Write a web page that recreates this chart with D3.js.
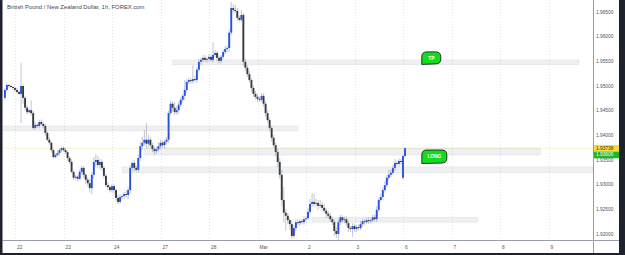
<!DOCTYPE html>
<html>
<head>
<meta charset="utf-8">
<script src="https://cdn.jsdelivr.net/npm/d3@7/dist/d3.min.js"></script>
<style>
  body { margin: 0; background: #fff; }
  svg { display: block; font-family: "Liberation Sans", Arial, sans-serif; }
</style>
</head>
<body>
<svg id="chart" width="625" height="255"></svg>
<script>
// hourly closes, first bar is 5 hours before Feb 22 00:00
var firstBar = -5;
var firstOpen = 1.9476;
var closes = [
  1.9492, 1.9502, 1.9500, 1.9498, 1.9496, 1.9492, 1.9488, 1.9484, 1.9500, 1.9476, 1.9456, 1.9447,
  1.9451, 1.9445, 1.9415, 1.9421, 1.9419, 1.9427, 1.9423, 1.9419, 1.9405, 1.9391, 1.9385, 1.9370,
  1.9356, 1.9360, 1.9364, 1.9370, 1.9374, 1.9370, 1.9366, 1.9354, 1.9346, 1.9326, 1.9314, 1.9316,
  1.9312, 1.9326, 1.9334, 1.9320, 1.9310, 1.9303, 1.9293, 1.9320, 1.9346, 1.9350, 1.9340, 1.9346,
  1.9334, 1.9318, 1.9299, 1.9295, 1.9289, 1.9297, 1.9289, 1.9273, 1.9265, 1.9275, 1.9277, 1.9281,
  1.9279, 1.9289, 1.9334, 1.9344, 1.9334, 1.9330, 1.9354, 1.9378, 1.9385, 1.9391, 1.9383, 1.9391,
  1.9380, 1.9372, 1.9368, 1.9372, 1.9378, 1.9385, 1.9380, 1.9387, 1.9391, 1.9445, 1.9464, 1.9456,
  1.9447, 1.9451, 1.9462, 1.9472, 1.9480, 1.9492, 1.9508, 1.9512, 1.9510, 1.9514, 1.9512, 1.9533,
  1.9549, 1.9553, 1.9557, 1.9553, 1.9555, 1.9559, 1.9553, 1.9563, 1.9567, 1.9557, 1.9551, 1.9559,
  1.9569, 1.9575, 1.9577, 1.9608, 1.9658, 1.9654, 1.9652, 1.9638, 1.9634, 1.9644, 1.9549, 1.9537,
  1.9524, 1.9512, 1.9496, 1.9484, 1.9478, 1.9474, 1.9472, 1.9480, 1.9464, 1.9445, 1.9431, 1.9415,
  1.9395, 1.9380, 1.9366, 1.9346, 1.9320, 1.9269, 1.9243, 1.9237, 1.9228, 1.9220, 1.9196, 1.9212,
  1.9224, 1.9222, 1.9226, 1.9224, 1.9230, 1.9232, 1.9245, 1.9261, 1.9265, 1.9261, 1.9263, 1.9257,
  1.9259, 1.9253, 1.9247, 1.9241, 1.9237, 1.9230, 1.9224, 1.9206, 1.9200, 1.9224, 1.9234, 1.9228,
  1.9230, 1.9222, 1.9212, 1.9210, 1.9216, 1.9210, 1.9214, 1.9212, 1.9220, 1.9226, 1.9224, 1.9228,
  1.9226, 1.9228, 1.9234, 1.9230, 1.9249, 1.9269, 1.9275, 1.9289, 1.9299, 1.9314, 1.9320, 1.9324,
  1.9334, 1.9344, 1.9342, 1.9348, 1.9346, 1.9358, 1.93738
];
// weekend gap: [bar, open]
var gapOpens = [[192, 1.9314]];
// wick lengths beyond the body, in pips
var wickUp = [
  4,3,2,3,2,3,4,3,47,3,4,5,3,20,4,6,3,4,5,3,4,3,5,3,
  3,4,6,3,3,4,5,3,4,6,3,4,3,5,4,3,4,5,8,6,10,12,8,6,
  5,4,3,6,4,5,3,4,6,5,3,4,8,6,5,4,6,5,7,8,12,20,34,10,
  6,5,4,5,8,6,5,4,6,5,7,5,12,8,6,5,4,20,6,5,4,28,6,5,
  5,4,6,5,4,6,5,26,6,4,5,4,5,6,5,6,12,8,10,6,5,10,4,5,
  5,6,4,5,6,5,4,6,5,4,6,5,4,6,5,6,8,10,26,8,6,5,8,6,
  5,6,4,5,6,5,8,10,18,16,8,6,10,6,8,6,5,6,5,6,8,6,5,4,
  5,6,5,4,6,5,4,5,6,5,4,5,6,4,5,6,8,5,6,5,8,6,10,6,
  6,8,5,6,4,3,2
];
var wickDn = [
  5,3,4,2,3,4,3,2,59,12,6,4,3,5,4,3,4,5,3,4,6,3,4,5,
  4,3,3,5,4,3,4,6,4,3,5,4,6,3,5,7,8,6,9,12,8,10,6,9,
  6,5,4,6,5,4,8,6,5,4,5,6,4,8,6,5,7,4,6,5,8,6,10,8,
  5,6,8,5,4,6,5,7,5,6,4,8,6,5,7,5,6,8,5,4,6,5,4,6,
  4,6,5,4,6,5,4,6,5,8,6,5,4,5,6,8,5,6,4,6,5,4,8,6,
  6,5,8,6,5,6,5,4,6,8,5,6,7,6,8,10,8,12,20,30,8,12,6,5,
  6,5,6,4,5,6,4,5,6,5,6,8,5,6,4,8,6,5,6,10,8,12,6,5,
  6,5,8,6,16,5,6,5,4,6,5,4,6,5,4,5,6,5,4,6,5,4,6,5,
  5,6,4,5,6,4,3
];

var dayLabels = ["22", "23", "24", "27", "28", "Mar", "2", "3", "6", "7", "8", "9"];
var priceTicks = [1.920, 1.925, 1.930, 1.935, 1.940, 1.945, 1.950, 1.955, 1.960, 1.965];
var lastPrice = 1.93738;
var markPrice = 1.93606;
// zones: [startBar, endBar, top, bottom]
var zones = [
  [78, 279, 1.9553, 1.9543],
  [-8, 140, 1.9419, 1.9409],
  [64, 260, 1.9374, 1.9360],
  [53, 300, 1.9336, 1.9324],
  [147, 229, 1.9234, 1.9224]
];
// notes: [text, bar, price]
var notes = [["TP", 206, 1.9557], ["LONG", 207.5, 1.9357]];

var W = 625, H = 255;
var left = 2.5, plotRight = 593, plotBottom = 240;

var svg = d3.select("#chart");

var x = d3.scaleLinear().domain([0, 264]).range([15, 548.5]);
var y = d3.scaleLinear().domain([1.92, 1.965]).range([234, 12]);

var bars = closes.map(function(c, i) {
  var k = firstBar + i;
  var o = i ? closes[i - 1] : firstOpen;
  gapOpens.forEach(function(g) { if (g[0] === k) o = g[1]; });
  return {k: k, o: o, c: c,
    h: Math.max(o, c) + wickUp[i] / 1e4,
    l: Math.min(o, c) - wickDn[i] / 1e4};
});

svg.append("defs").append("clipPath").attr("id", "plot")
  .append("rect").attr("x", left).attr("y", 0)
  .attr("width", plotRight - left).attr("height", plotBottom);

var plot = svg.append("g").attr("clip-path", "url(#plot)");

// vertical grid
plot.selectAll(".grid").data(dayLabels).enter().append("line")
  .attr("x1", (d, i) => Math.round(x(i * 24)) + 0.5)
  .attr("x2", (d, i) => Math.round(x(i * 24)) + 0.5)
  .attr("y1", 0).attr("y2", plotBottom)
  .attr("stroke", "#e3e5ea").attr("stroke-dasharray", "1,2");

// last price line
plot.append("line")
  .attr("x1", left).attr("x2", plotRight)
  .attr("y1", y(lastPrice)).attr("y2", y(lastPrice))
  .attr("stroke", "#f2de7a").attr("stroke-width", 0.7).attr("stroke-dasharray", "1,1");

// wicks
plot.selectAll(".wick").data(bars).enter().append("line")
  .attr("x1", d => x(d.k)).attr("x2", d => x(d.k))
  .attr("y1", d => y(d.h)).attr("y2", d => y(d.l))
  .attr("stroke", "#c3c6cd").attr("stroke-width", 1);

// bodies
plot.selectAll(".body").data(bars).enter().append("rect")
  .attr("x", d => x(d.k) - 0.95)
  .attr("width", 1.9)
  .attr("y", d => y(Math.max(d.o, d.c)))
  .attr("height", d => Math.max(0.8, Math.abs(y(d.o) - y(d.c))))
  .attr("fill", d => d.c >= d.o ? "#2450e3" : "#363942");

// zones
plot.selectAll(".zone").data(zones).enter().append("rect")
  .attr("x", d => x(d[0])).attr("width", d => x(d[1]) - x(d[0]))
  .attr("y", d => y(d[2])).attr("height", d => y(d[3]) - y(d[2]))
  .attr("fill", "rgba(125,132,150,0.12)")
  .attr("stroke", "rgba(125,132,150,0.16)").attr("stroke-width", 0.6);

// notes
function balloon(cx, cy, w, h) {
  var x0 = cx - w / 2, x1 = cx + w / 2, y0 = cy - h / 2, y1 = cy + h / 2, r = 5;
  return "M" + x0 + "," + (y1 + 0.5) + "L" + x0 + "," + (y0 + r) +
    "Q" + x0 + "," + y0 + " " + (x0 + r) + "," + y0 +
    "L" + (x1 - r) + "," + y0 + "Q" + x1 + "," + y0 + " " + x1 + "," + (y0 + r) +
    "L" + x1 + "," + (y1 - r) + "Q" + x1 + "," + y1 + " " + (x1 - r) + "," + y1 + "Z";
}
var note = plot.selectAll(".note").data(notes).enter().append("g");
note.append("path")
  .attr("d", d => balloon(x(d[1]), y(d[2]), d[0].length > 2 ? 25 : 19, d[0].length > 2 ? 13 : 12))
  .attr("fill", "#12dd1c").attr("stroke", "#1b1e25").attr("stroke-width", 0.9);
note.append("text")
  .attr("x", d => x(d[1])).attr("y", d => y(d[2]) + 1.7)
  .attr("text-anchor", "middle").attr("font-size", 4.8).attr("font-weight", "bold")
  .attr("fill", "#fff").text(d => d[0]);

// title
svg.append("text").attr("x", 7).attr("y", 9.3)
  .attr("font-size", 5.9).attr("fill", "#434651")
  .text("British Pound / New Zealand Dollar, 1h, FOREX.com");

// price axis
var yAxis = svg.append("g");
yAxis.selectAll("text").data(priceTicks).enter().append("text")
  .attr("x", 596).attr("y", d => y(d) + 1.7)
  .attr("font-size", 4.8).attr("fill", "#50535e")
  .text(d => d3.format(".5f")(d));

function priceTag(p, bg, fg, h) {
  var g = svg.append("g");
  g.append("rect").attr("x", plotRight).attr("y", y(p) - h / 2)
    .attr("width", 619 - plotRight).attr("height", h).attr("fill", bg);
  g.append("text").attr("x", 596).attr("y", y(p) + 1.7)
    .attr("font-size", 4.8).attr("fill", fg).text(d3.format(".5f")(p));
}
priceTag(markPrice, "#1fb628", "#ffffff", 7);
priceTag(lastPrice, "#f7dc3c", "#2a2e39", 6.6);

// time axis
svg.selectAll(".day").data(dayLabels).enter().append("text")
  .attr("x", (d, i) => x(i * 24) + 2).attr("y", 249)
  .attr("font-size", 4.8).attr("fill", "#50535e")
  .text(d => d);

// axis lines
svg.append("line").attr("x1", left).attr("x2", 619)
  .attr("y1", plotBottom + 0.5).attr("y2", plotBottom + 0.5)
  .attr("stroke", "#9a9da6").attr("stroke-width", 1);
svg.append("line").attr("x1", plotRight + 0.5).attr("x2", plotRight + 0.5)
  .attr("y1", 0).attr("y2", 253)
  .attr("stroke", "#9a9da6").attr("stroke-width", 1);

// dark frame
svg.append("rect").attr("x", 0).attr("y", 0).attr("width", left).attr("height", H).attr("fill", "#1e222d");
svg.append("rect").attr("x", 619).attr("y", 0).attr("width", W - 619).attr("height", H).attr("fill", "#1e222d");
svg.append("rect").attr("x", 0).attr("y", 253).attr("width", W).attr("height", 2).attr("fill", "#1e222d");
</script>
</body>
</html>
